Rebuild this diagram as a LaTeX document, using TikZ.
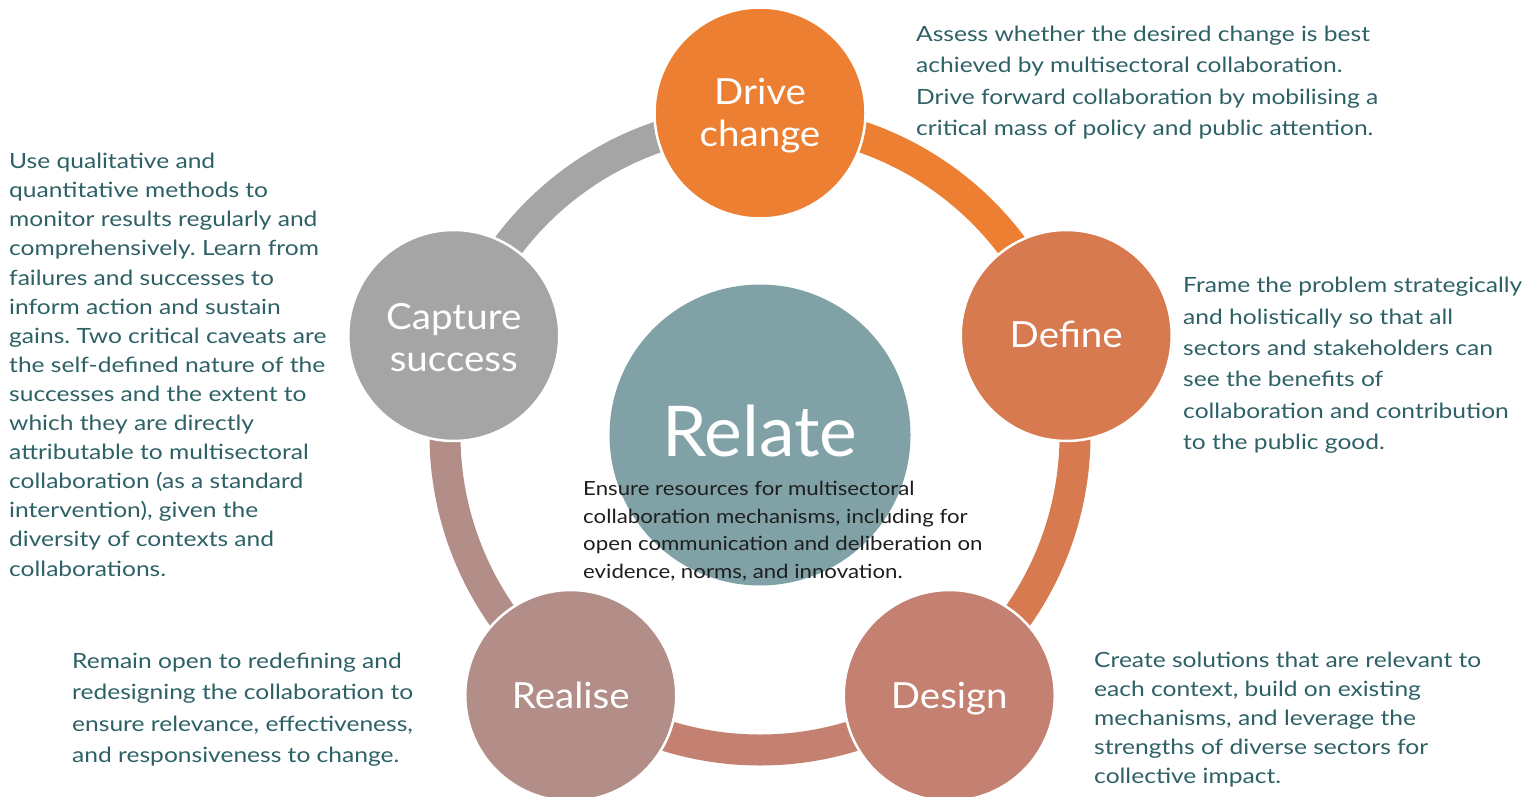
\documentclass[tikz,border=0pt]{standalone}
\usepackage{fontspec}
\setmainfont{Lato}
\newfontfamily\notefont{Lato}[FakeStretch=1.17]
\newfontfamily\hubnotefont{Lato}[FakeStretch=1.14]
\newfontfamily\labelfont{Lato}[FakeStretch=1.07]
\newfontfamily\titlefont{Lato}[FakeStretch=1.02]
\usetikzlibrary{calc}
\frenchspacing

\definecolor{cDrive}{HTML}{ED7F32}
\definecolor{cDefine}{HTML}{D77A50}
\definecolor{cDesign}{HTML}{C48070}
\definecolor{cRealise}{HTML}{B38E88}
\definecolor{cCapture}{HTML}{A5A5A5}
\definecolor{cRelate}{HTML}{80A2A7}
\definecolor{cText}{HTML}{2D6166}
\definecolor{cDark}{HTML}{1E1E1E}

\tikzset{
  stage/.style={circle, fill=#1, draw=white, line width=2.5pt, minimum size=211pt, inner sep=0pt},
  stagelabel/.style={inner sep=0pt, text=white, align=center,
    font=\labelfont\fontsize{36}{42}\selectfont},
  oneline/.style={text height=26pt, text depth=8pt, yshift=-3.5pt},
  ringarc/.style={line width=31pt, draw=#1},
  note/.style={anchor=north west, inner sep=0pt, align=left, text=cText},
}

\begin{document}
\begin{tikzpicture}[x=1pt, y=1pt]
  \useasboundingbox (0,0) rectangle (1538,-797);

  % central hub
  \node[circle, fill=cRelate, minimum size=301pt, inner sep=0pt] (hub) at (760,-435) {};
  \node[text=white, font=\titlefont\fontsize{70}{80}\selectfont, inner sep=0pt] (hubtitle) at (760,-431) {Relate};

  % ring segments, each coloured after the stage it leaves
  \draw[ringarc=cDrive]   ($(hub.center)+(90:315)$)   arc[start angle=90,   end angle=18,   radius=315];
  \draw[ringarc=cDefine]  ($(hub.center)+(18:315)$)   arc[start angle=18,   end angle=-54,  radius=315];
  \draw[ringarc=cDesign]  ($(hub.center)+(-54:315)$)  arc[start angle=-54,  end angle=-126, radius=315];
  \draw[ringarc=cRealise] ($(hub.center)+(-126:315)$) arc[start angle=-126, end angle=-198, radius=315];
  \draw[ringarc=cCapture] ($(hub.center)+(162:315)$)  arc[start angle=162,  end angle=90,   radius=315];

  % stages
  \node[stage=cDrive]   (drive)   at ($(hub.center)+(90:322)$)   {};
  \node[stage=cDefine]  (define)  at ($(hub.center)+(18:322)$)   {};
  \node[stage=cDesign]  (design)  at ($(hub.center)+(-54:322)$)  {};
  \node[stage=cRealise] (realise) at ($(hub.center)+(-126:322)$) {};
  \node[stage=cCapture] (capture) at ($(hub.center)+(162:322)$)  {};

  \node[stagelabel, yshift=-3pt] (drivelabel)   at (drive.center)   {Drive\\change};
  \node[stagelabel, oneline] (definelabel)  at (define.center)  {Define};
  \node[stagelabel, oneline] (designlabel)  at (design.center)  {Design};
  \node[stagelabel, oneline] (realiselabel) at (realise.center) {Realise};
  \node[stagelabel, yshift=-2pt] (capturelabel) at (capture.center) {Capture\\success};

  % descriptions
  \node[note, text=cDark, font=\hubnotefont\fontsize{19.5}{27.6}\selectfont] (hubtext) at (583,-481)
    {Ensure resources for multisectoral\\collaboration mechanisms, including for\\open communication and deliberation on\\evidence, norms, and innovation.};

  \node[note, font=\notefont\fontsize{21}{31.3}\selectfont] (drivetext) at (916,-26)
    {Assess whether the desired change is best\\achieved by multisectoral collaboration.\\Drive forward collaboration by mobilising a\\critical mass of policy and public attention.};

  \node[note, font=\notefont\fontsize{21}{31.4}\selectfont] (definetext) at (1183,-277)
    {Frame the problem strategically\\and holistically so that all\\sectors and stakeholders can\\see the benefits of\\collaboration and contribution\\to the public good.};

  \node[note, font=\notefont\fontsize{21}{29}\selectfont] (designtext) at (1094,-652)
    {Create solutions that are relevant to\\each context, build on existing\\mechanisms, and leverage the\\strengths of diverse sectors for\\collective impact.};

  \node[note, font=\notefont\fontsize{21}{31.3}\selectfont] (realisetext) at (72,-653)
    {Remain open to redefining and\\redesigning the collaboration to\\ensure relevance, effectiveness,\\and responsiveness to change.};

  \node[note, font=\notefont\fontsize{21}{29.1}\selectfont] (capturetext) at (9,-153)
    {Use qualitative and\\quantitative methods to\\monitor results regularly and\\comprehensively. Learn from\\failures and successes to\\inform action and sustain\\gains. Two critical caveats are\\the self-defined nature of the\\successes and the extent to\\which they are directly\\attributable to multisectoral\\collaboration (as a standard\\intervention), given the\\diversity of contexts and\\collaborations.};
\end{tikzpicture}
\end{document}
